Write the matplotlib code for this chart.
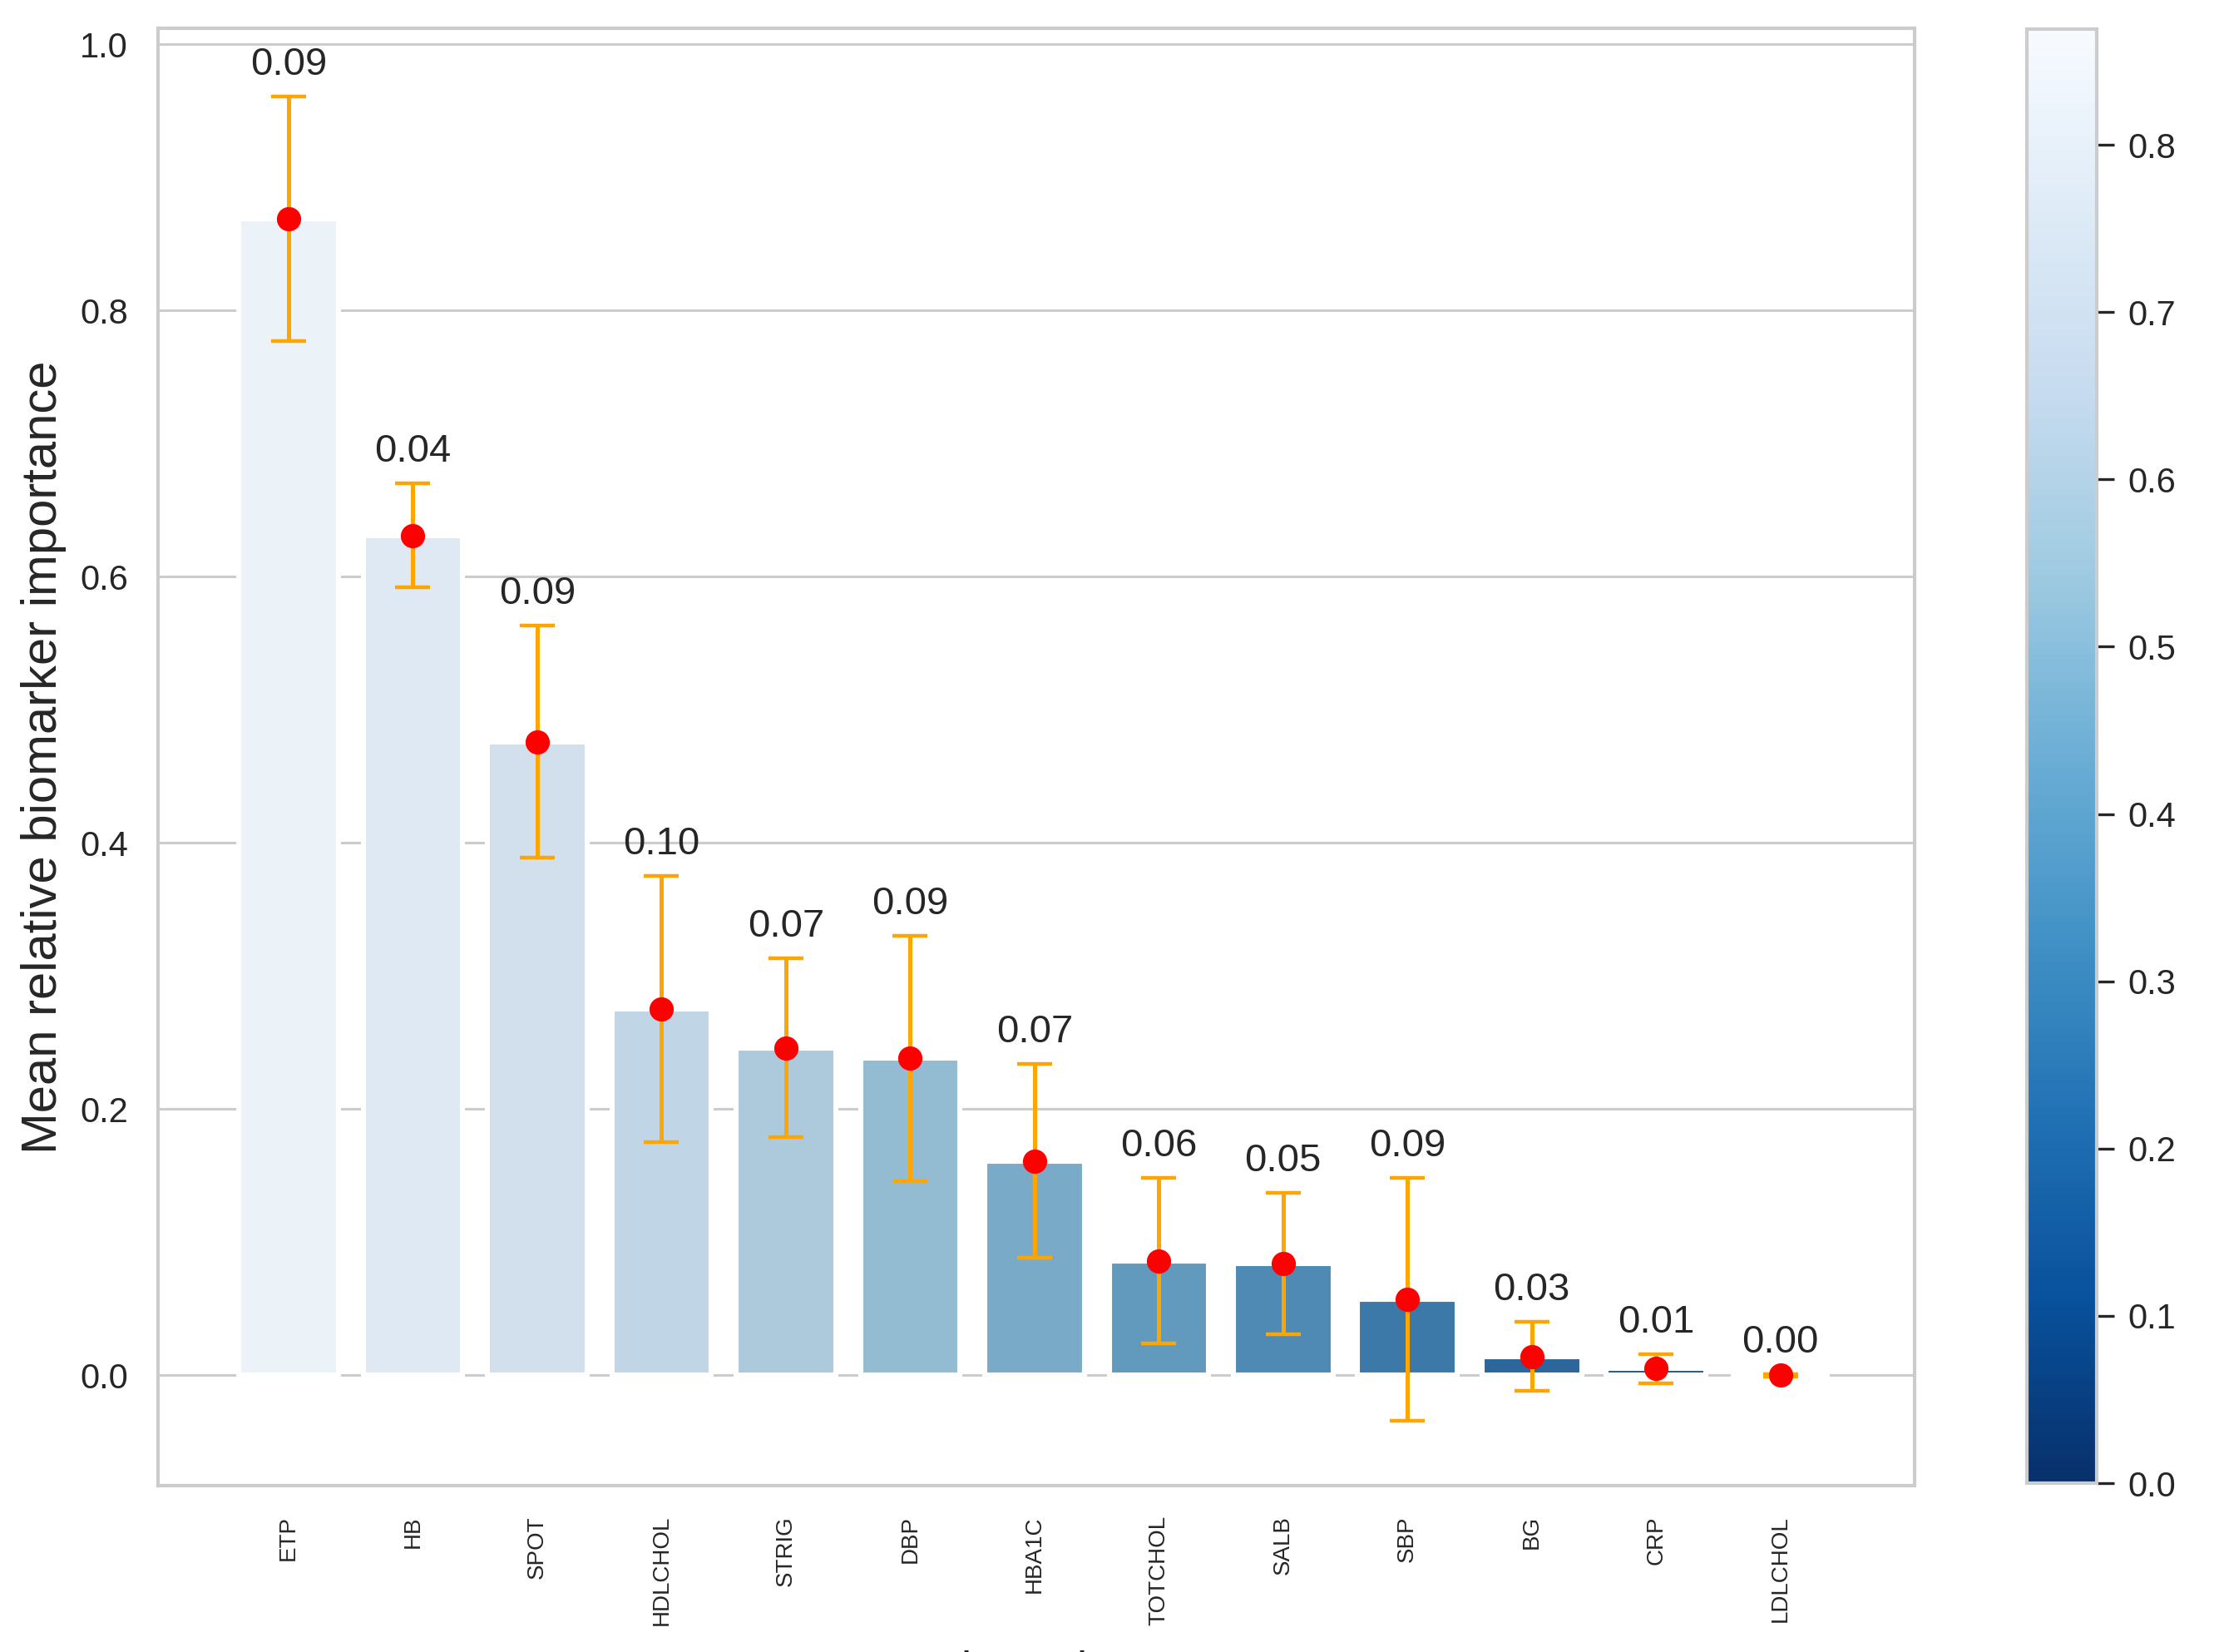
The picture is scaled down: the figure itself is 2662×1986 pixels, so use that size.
import numpy as np
import matplotlib
matplotlib.use("Agg")
import matplotlib.pyplot as plt
import seaborn as sns
from matplotlib.cm import ScalarMappable
from matplotlib.colors import Normalize

biomarkers = ['ETP', 'HB', 'SPOT', 'HDLCHOL', 'STRIG', 'DBP', 'HBA1C',
              'TOTCHOL', 'SALB', 'SBP', 'BG', 'CRP', 'LDLCHOL']
mean_importance = [0.869, 0.631, 0.476, 0.275, 0.246, 0.238, 0.161,
                   0.086, 0.084, 0.057, 0.014, 0.005, 0.0]
std_importance = [0.092, 0.039, 0.087, 0.100, 0.067, 0.092, 0.073,
                  0.062, 0.053, 0.091, 0.026, 0.011, 0.001]

sns.set_style("whitegrid")
plt.rcParams['font.family'] = ['Liberation Sans', 'DejaVu Sans']

fig = plt.figure(figsize=(13.31, 9.93), dpi=200)
ax = fig.add_axes([0.0714, 0.1007, 0.7934, 0.8822])
cax = fig.add_axes([0.9155, 0.1022, 0.0316, 0.8800])

n = len(biomarkers)
x = np.arange(n)

# rank based palette, lightest for the most important biomarker
pal = sns.color_palette("Blues_r", n)
colors = [sns.desaturate(pal[n - 1 - i], 0.75) for i in range(n)]

ax.bar(x, mean_importance, width=0.8, color=colors, edgecolor='white',
       linewidth=2.2, zorder=2)
ax.errorbar(x, mean_importance, yerr=std_importance, fmt='o', color='red',
            ecolor='orange', elinewidth=1.8, capsize=7.5, capthick=1.6,
            markersize=9.5, zorder=3)

for xi, m, s in zip(x, mean_importance, std_importance):
    ax.text(xi, m + s + 0.010, f"{s:.2f}", ha='center', va='bottom',
            fontsize=17, color='#262626', zorder=4)

ax.set_xlim(-1.05, 13.08)
ax.set_ylim(-0.083, 1.012)
ax.set_yticks(np.arange(0, 1.01, 0.2))
ax.set_yticklabels([f"{v:.1f}" for v in np.arange(0, 1.01, 0.2)])
ax.set_xticks(x)
ax.set_xticklabels(biomarkers, rotation=90, fontsize=10)
ax.tick_params(axis='y', labelsize=15, pad=13, length=0)
ax.tick_params(axis='x', pad=13, length=0)
ax.grid(axis='x', visible=False)
ax.grid(axis='y', color='#cccccc', linewidth=1.1)
ax.set_axisbelow(True)
for sp in ax.spines.values():
    sp.set_color('#cccccc')
    sp.set_linewidth(1.5)

ax.set_ylabel("Mean relative biomarker importance", fontsize=21.5,
              color='#262626')
ax.yaxis.set_label_coords(-0.052, 0.5)

# x label sits almost entirely below the bottom edge, as in the source image
fig.text(0.468, 0.0012, "Biomarker", ha='center', va='top', fontsize=20,
         color='#262626')

sm = ScalarMappable(norm=Normalize(0, max(mean_importance)), cmap='Blues_r')
cb = fig.colorbar(sm, cax=cax)
cb.set_ticks(np.arange(0, 0.81, 0.1))
cb.ax.tick_params(labelsize=15, length=7.5, width=1.2, color='#262626',
                  pad=6, right=True)
cb.outline.set_edgecolor('#cccccc')
cb.outline.set_linewidth(1.5)

fig.savefig("out.png", dpi=200)
